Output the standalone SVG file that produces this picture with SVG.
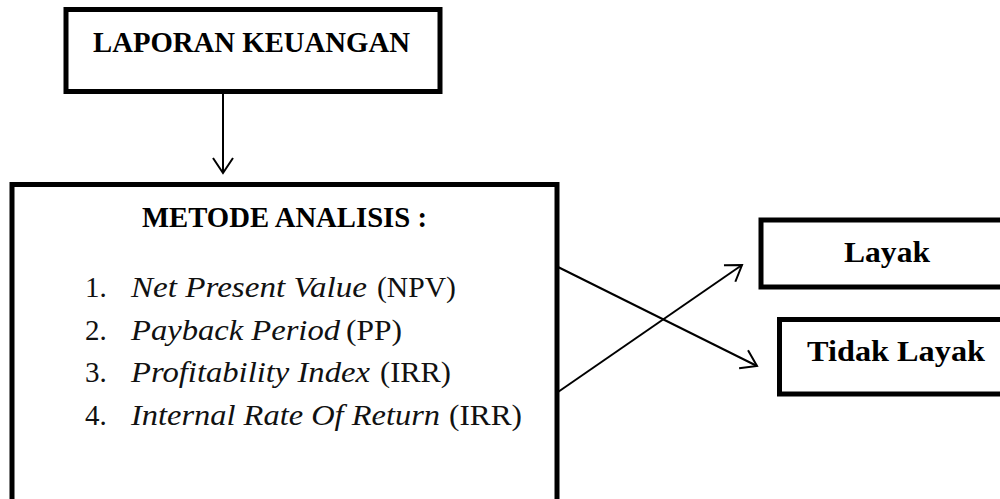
<svg xmlns="http://www.w3.org/2000/svg" width="1000" height="499" viewBox="0 0 1000 499">
<style>
.box{fill:#fff;stroke:#000;stroke-width:5}
.title{font-family:"Liberation Serif","DejaVu Serif",serif;font-weight:bold;font-size:30px;fill:#000}
.item{font-family:"Liberation Serif","DejaVu Serif",serif;font-size:29px;fill:#111}
.it{font-style:italic}
.conn{stroke:#000;stroke-width:2;fill:none}
</style>
<defs>
<marker id="open" markerUnits="userSpaceOnUse" markerWidth="20" markerHeight="24" viewBox="0 0 20 24" refX="17" refY="12" orient="auto">
<path d="M2,2 L17,12 L2,22" fill="none" stroke="#000" stroke-width="2"/>
</marker>
</defs>
<rect width="1000" height="499" fill="#fff"/>
<g id="laporan">
<rect class="box" x="66" y="9.5" width="374" height="82"/>
<text class="title" x="93" y="52" textLength="317" lengthAdjust="spacingAndGlyphs">LAPORAN KEUANGAN</text>
</g>
<g id="metode">
<rect class="box" x="12" y="184.5" width="545" height="340"/>
<text class="title" x="142" y="227" textLength="285" lengthAdjust="spacingAndGlyphs">METODE ANALISIS :</text>
<text class="item" x="85" y="297">1.</text>
<text class="item it" x="131" y="297" textLength="236" lengthAdjust="spacingAndGlyphs">Net Present Value</text>
<text class="item" x="377" y="297" textLength="79" lengthAdjust="spacingAndGlyphs">(NPV)</text>
<text class="item" x="85" y="339.5">2.</text>
<text class="item it" x="131" y="339.5" textLength="209" lengthAdjust="spacingAndGlyphs">Payback Period</text>
<text class="item" x="346" y="339.5" textLength="56" lengthAdjust="spacingAndGlyphs">(PP)</text>
<text class="item" x="85" y="382">3.</text>
<text class="item it" x="131" y="382" textLength="239" lengthAdjust="spacingAndGlyphs">Profitability Index</text>
<text class="item" x="380" y="382" textLength="71" lengthAdjust="spacingAndGlyphs">(IRR)</text>
<text class="item" x="85" y="424.5">4.</text>
<text class="item it" x="131" y="424.5" textLength="309" lengthAdjust="spacingAndGlyphs">Internal Rate Of Return</text>
<text class="item" x="449" y="424.5" textLength="73" lengthAdjust="spacingAndGlyphs">(IRR)</text>
</g>
<g id="layak">
<rect class="box" x="761" y="220" width="250" height="67"/>
<text class="title" x="844" y="262" textLength="86" lengthAdjust="spacingAndGlyphs">Layak</text>
</g>
<g id="tidak-layak">
<rect class="box" x="779.5" y="319.5" width="230" height="74.5"/>
<text class="title" x="807" y="361" textLength="178" lengthAdjust="spacingAndGlyphs">Tidak Layak</text>
</g>
<g id="connectors">
<line class="conn" x1="223" y1="89" x2="223" y2="173" marker-end="url(#open)"/>
<line class="conn" x1="558" y1="267" x2="757" y2="366" marker-end="url(#open)"/>
<line class="conn" x1="558" y1="392" x2="742" y2="265" marker-end="url(#open)"/>
</g>
</svg>
